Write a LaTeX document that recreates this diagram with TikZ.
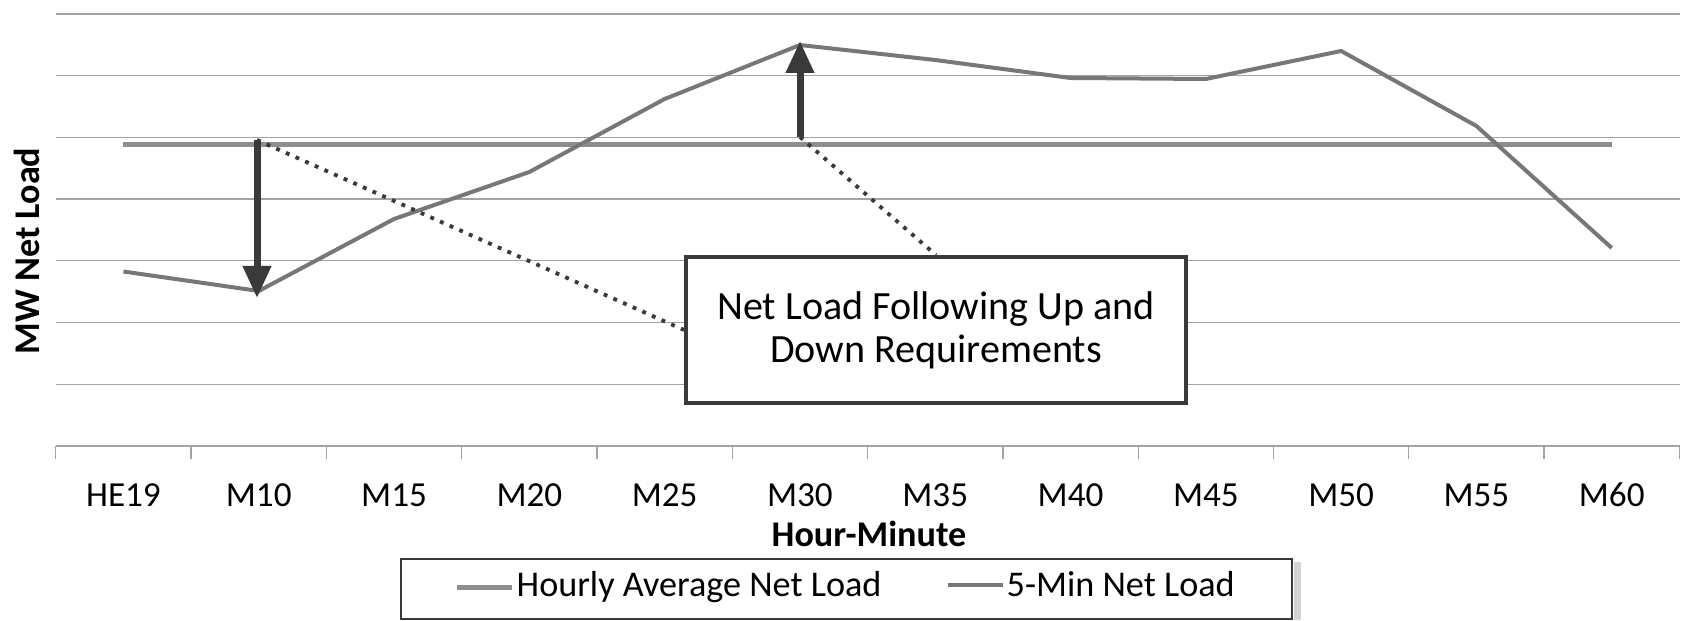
\documentclass[tikz,border=0pt]{standalone}
\usepackage{fontspec}
\setmainfont{Carlito}
\usetikzlibrary{arrows.meta,positioning}
\definecolor{colorGrid}{HTML}{A3A3A3}
\definecolor{colorHourly}{HTML}{8E8E8E}
\definecolor{colorFive}{HTML}{777777}
\definecolor{colorArrow}{HTML}{3A3A3A}
\definecolor{colorShadow}{HTML}{D4D4D4}

\begin{document}
\begin{tikzpicture}[x=0.1mm,y=-0.1mm,>={Triangle[width=2.7mm,length=3.2mm]},every node/.append style={align=center},grid/.style={draw=colorGrid,line width=0.35pt},hourly/.style={draw=colorHourly,line width=0.5mm},fivemin/.style={draw=colorFive,line width=0.4mm,line join=round},req/.style={draw=colorArrow,line width=0.7mm},callout/.style={draw=colorArrow,line width=1.1pt,dash pattern=on 1.1pt off 1.9pt},note/.style={rectangle,draw=colorArrow,line width=1.1pt,fill=white,minimum width=50mm,minimum height=14.6mm,font=\fontsize{11.4}{12.3}\selectfont},tick/.style={font=\fontsize{10}{12}\selectfont,anchor=base},title/.style={font=\fontsize{10.3}{12}\selectfont\bfseries},legend/.style={font=\fontsize{10.3}{12}\selectfont,anchor=base west,inner sep=0pt}]
    \useasboundingbox (0,0) rectangle (1683,621);
    \foreach \y in {14,75.7,137.4,199.1,260.8,322.5,384.2,445.9} \draw[grid] (56,\y) -- (1680,\y);
    \foreach \i in {0,...,12} \draw[grid] (55.8+135.3*\i,445.9) -- (55.8+135.3*\i,459);
    \foreach \lbl [count=\i from 0] in {HE19,M10,M15,M20,M25,M30,M35,M40,M45,M50,M55,M60} \node[tick] (t\i) at (123.45+135.3*\i,507) {\lbl};
    \node[title,anchor=base] (xTitle) at (869,547) {Hour-Minute};
    \node[title,rotate=90] (yTitle) at (27,251) {MW Net Load};
    \coordinate (hStart) at (123.45,145);
    \coordinate (hEnd) at (1612,145);
    \draw[hourly] (hStart) -- (hEnd);
    \foreach \v [count=\i from 0] in {271.5,291,219,172,99,45,60,78,79,51,126,248} \coordinate (p\i) at (123.45+135.3*\i,\v);
    \draw[fivemin] (p0) \foreach \i in {1,...,11} {-- (p\i)};
    \coordinate (dnTop) at (257,140);
    \coordinate (dnTip) at (257,298);
    \coordinate (upBase) at (800,137);
    \coordinate (upTip) at (800,41);
    \draw[req,->] (dnTop) -- (dnTip);
    \draw[req,->] (upBase) -- (upTip);
    \node[note] (reqbox) at (936,330) {Net Load Following Up and\\Down Requirements};
    \draw[callout] (dnTop) -- (reqbox.west);
    \draw[callout] (upBase) -- (reqbox.north);
    \node[draw=colorArrow,line width=0.5pt,minimum width=89.1mm,minimum height=6mm,inner sep=0pt] (legbox) at (846.5,589) {};
    \fill[colorShadow] ([shift={(1,4)}]legbox.north east) rectangle ([shift={(8,0)}]legbox.south east);
    \node[legend] (hourlyLbl) at (516,597) {Hourly Average Net Load};
    \node[legend] (fiveLbl) at (1006,597) {5-Min Net Load};
    \draw[hourly] ([xshift=-5.9mm]hourlyLbl.west) -- ([xshift=-0.4mm]hourlyLbl.west);
    \draw[fivemin] ([xshift=-5.8mm]fiveLbl.west) -- ([xshift=-0.3mm]fiveLbl.west);
\end{tikzpicture}
\end{document}
